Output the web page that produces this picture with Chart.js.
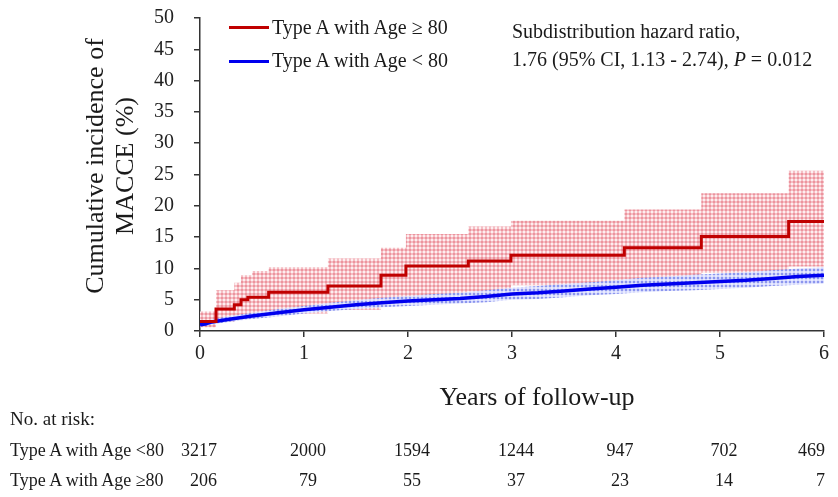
<!DOCTYPE html>
<html>
<head>
<meta charset="utf-8">
<script src="https://cdn.jsdelivr.net/npm/chart.js@4.4.1/dist/chart.umd.min.js"></script>
<style>
  body { margin: 0; background: #fff; }
  #wrap {
    position: relative; width: 838px; height: 497px;
    font-family: "Liberation Serif", "Times New Roman", serif; color: #1a1a1a;
  }
  #wrap .t { position: absolute; white-space: nowrap; }
  .key { position: absolute; height: 3px; width: 40px; }
</style>
</head>
<body>
<div id="wrap">
  <canvas id="chart" width="838" height="497"></canvas>

  <div class="t" id="yTitle" style="left:-40px;top:136px;width:300px;height:60px;font-size:26px;line-height:30px;text-align:center;transform:rotate(-90deg);">Cumulative incidence of<br>MACCE (%)</div>

  <div class="key" style="left:229px;top:26px;background:#c00000;"></div>
  <div class="t" style="left:272px;top:16px;font-size:20px;">Type A with Age ≥ 80</div>
  <div class="key" style="left:229px;top:60px;background:#0000ee;"></div>
  <div class="t" style="left:272px;top:49px;font-size:20px;">Type A with Age &lt; 80</div>

  <div class="t" style="left:512px;top:17px;font-size:20px;line-height:28px;">Subdistribution hazard ratio,<br>1.76 (95% CI, 1.13 - 2.74), <i>P</i> = 0.012</div>

  <div class="t" style="left:537px;top:382px;font-size:26px;transform:translateX(-50%);">Years of follow-up</div>
  <div class="t" style="left:10px;top:408px;font-size:19px;">No. at risk:</div>
  <div class="t" id="rowYoungLabel" style="left:10px;top:440px;font-size:18px;">Type A with Age &lt;80</div>
  <div class="t" id="rowOldLabel" style="left:10px;top:470px;font-size:18px;">Type A with Age ≥80</div>
</div>

<script>
// ===== DATA =====
const xTicks = [0, 1, 2, 3, 4, 5, 6];

// Type A with Age >= 80 (step curve + 95% CI)
const redTimes = [0, 0.154, 0.33, 0.394, 0.46, 0.66, 1.23, 1.74, 1.98, 2.58, 2.99, 4.08, 4.82, 5.66, 6.0];
const redValues = [1.5, 3.5, 4.2, 5.0, 5.4, 6.2, 7.2, 8.9, 10.4, 11.2, 12.1, 13.3, 15.1, 17.5, 17.5];
const redCiTimes = [0, 0.154, 0.33, 0.394, 0.5, 0.66, 1.23, 1.74, 1.98, 2.58, 2.99, 4.08, 4.82, 5.66, 6.0];
const redUpper = [3.1, 6.5, 7.7, 8.9, 9.6, 10.2, 11.6, 13.3, 15.5, 16.7, 17.6, 19.4, 22.0, 25.6, 25.6];
const redLower = [0.6, 1.5, 1.9, 2.2, 2.4, 2.8, 3.4, 4.2, 5.2, 6.3, 7.3, 8.3, 9.3, 10.3, 10.3];

// Type A with Age < 80
const blueTimes = [0, 0.05, 0.1, 0.25, 0.5, 0.75, 1.0, 1.25, 1.5, 1.75, 2.0, 2.25, 2.5, 2.75, 3.0, 3.25, 3.5, 3.75, 4.0, 4.25, 4.5, 4.75, 5.0, 5.25, 5.5, 5.75, 6.0];
const blueValues = [1.0, 1.1, 1.4, 1.8, 2.4, 2.9, 3.4, 3.8, 4.2, 4.5, 4.8, 5.0, 5.2, 5.5, 5.9, 6.1, 6.4, 6.7, 7.0, 7.3, 7.5, 7.7, 7.9, 8.1, 8.4, 8.7, 8.9];
const blueUpper = [1.3, 1.5, 1.8, 2.3, 2.9, 3.5, 4.0, 4.5, 4.9, 5.3, 5.6, 5.9, 6.1, 6.5, 6.9, 7.2, 7.5, 7.8, 8.1, 8.5, 8.7, 9.0, 9.2, 9.4, 9.7, 10.0, 10.2];
const blueLower = [0.7, 0.8, 1.0, 1.4, 1.9, 2.3, 2.8, 3.2, 3.5, 3.8, 4.0, 4.2, 4.4, 4.6, 5.0, 5.1, 5.4, 5.7, 5.9, 6.2, 6.4, 6.5, 6.7, 6.9, 7.2, 7.4, 7.6];

// No. at risk
const riskYoung = [3217, 2000, 1594, 1244, 947, 702, 469];
const riskOld = [206, 79, 55, 37, 23, 14, 7];

// ===== HELPERS =====
function pts(xs, ys) {
  return xs.map((x, i) => ({ x: x, y: ys[i] }));
}

// checked/dotted fill like the original CI shading
function dotPattern(bg, line, dot) {
  const c = document.createElement("canvas");
  c.width = c.height = 4;
  const g = c.getContext("2d");
  g.fillStyle = bg;
  g.fillRect(0, 0, 4, 4);
  if (line) {
    g.fillStyle = line;
    g.fillRect(0, 1, 4, 2);
    g.fillRect(1, 0, 2, 4);
  }
  g.fillStyle = dot;
  g.fillRect(1, 1, 2, 2);
  return g.createPattern(c, "repeat");
}

const redFill = dotPattern("rgb(253,238,240)", "rgb(245,190,196)", "rgb(236,148,158)");
const blueFill = dotPattern("rgb(232,235,255)", "rgb(210,214,252)", "rgb(140,150,238)");

const axisColor = "#333";
const tickFont = { family: "Liberation Serif", size: 20 };

// ===== CHART =====
const chart = new Chart(document.getElementById("chart"), {
  type: "line",
  data: {
    datasets: [
      { data: pts(redCiTimes, redLower), stepped: true, borderWidth: 0, pointRadius: 0, fill: false, order: 5 },
      { data: pts(redCiTimes, redUpper), stepped: true, borderWidth: 0, pointRadius: 0, fill: 0, backgroundColor: redFill, order: 4 },
      { data: pts(blueTimes, blueLower), borderWidth: 0, pointRadius: 0, fill: false, order: 3 },
      { data: pts(blueTimes, blueUpper), borderWidth: 0, pointRadius: 0, fill: 2, backgroundColor: blueFill, order: 2 },
      { label: "Type A with Age < 80", data: pts(blueTimes, blueValues), borderColor: "#0000ee", borderWidth: 3.5, pointRadius: 0, fill: false, order: 1 },
      { label: "Type A with Age ≥ 80", data: pts(redTimes, redValues), stepped: true, borderColor: "#c00000", borderWidth: 3, pointRadius: 0, fill: false, order: 0 },
    ],
  },
  options: {
    responsive: false,
    animation: false,
    layout: { padding: { top: 18, right: 14, left: 0, bottom: 0 } },
    plugins: { legend: { display: false }, tooltip: { enabled: false } },
    elements: { line: { tension: 0, borderJoinStyle: "miter" } },
    scales: {
      x: {
        type: "linear",
        min: 0,
        max: 6,
        afterFit: (s) => { s.height = 166; },
        afterBuildTicks: (s) => { s.ticks = xTicks.map((v) => ({ value: v })); },
        ticks: { font: tickFont, color: "#222", padding: 5, maxRotation: 0 },
        grid: { drawOnChartArea: false, drawTicks: true, tickLength: 6, color: axisColor, lineWidth: 1.5 },
        border: { color: axisColor, width: 1.5 },
      },
      y: {
        min: 0,
        max: 50,
        // label padding would otherwise push the plot top down
        afterFit: (s) => { s.width = 200; s.paddingTop = 0; s.paddingBottom = 0; },
        ticks: { stepSize: 5, font: tickFont, color: "#222", padding: 20 },
        grid: { drawOnChartArea: false, drawTicks: true, tickLength: 6, color: axisColor, lineWidth: 1.5 },
        border: { color: axisColor, width: 1.5 },
      },
    },
  },
});

// ===== RISK TABLE =====
const wrap = document.getElementById("wrap");
const xs = chart.scales.x;

function placeRow(values, top) {
  values.forEach((v, i) => {
    const s = document.createElement("div");
    s.className = "t";
    s.textContent = v;
    s.style.fontSize = "18px";
    s.style.top = top + "px";
    let px = xs.getPixelForValue(xTicks[i]);
    let shift = "-50%";
    if (i === 0) { px += 17; shift = "-100%"; }
    else if (i === values.length - 1) { px += 1; shift = "-100%"; }
    else { px += 4; }
    s.style.left = px + "px";
    s.style.transform = "translateX(" + shift + ")";
    wrap.appendChild(s);
  });
}
placeRow(riskYoung, 440);
placeRow(riskOld, 470);
</script>
</body>
</html>
